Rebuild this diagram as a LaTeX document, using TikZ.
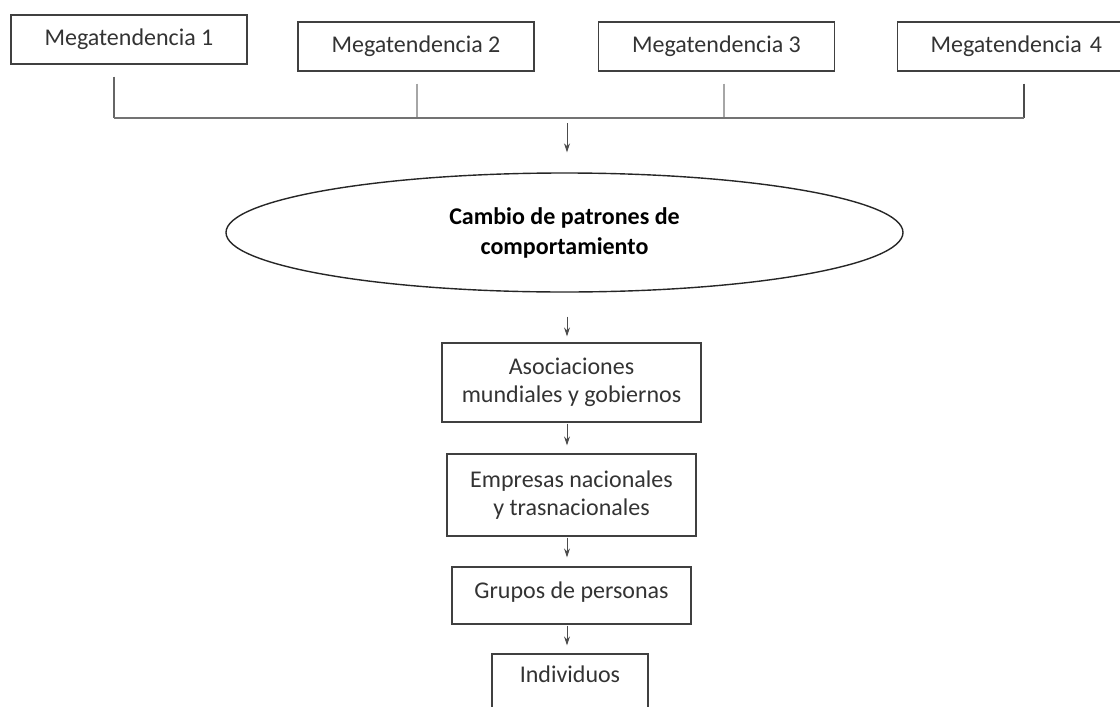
\documentclass[tikz,border=0pt]{standalone}
\usepackage{fontspec}
\setmainfont{Carlito}
\usetikzlibrary{shapes.geometric,arrows.meta}
\tikzset{
  texto/.style={text=black!80, font=\fontsize{12}{14}\selectfont},
  megabox/.style={texto, draw=black!75, line width=0.6pt, minimum width=118pt, minimum height=24.5pt, inner sep=0pt},
  nivel/.style={texto, draw=black!75, line width=0.6pt, align=center, inner sep=0pt},
  enlace/.style={line width=0.6pt},
  flecha/.style={draw=black!70, line width=0.5pt, -{Stealth[length=4.5pt,width=3pt]}},
}
\begin{document}
\begin{tikzpicture}[x=0.5pt,y=-0.5pt]
    \useasboundingbox (0,0) rectangle (1120,707);
    \node[megabox] (m1) at (129,39.5) {Megatendencia 1};
    \node[megabox] (m2) at (416,46.5) {Megatendencia 2};
    \node[megabox] (m3) at (716.5,46.5) {Megatendencia 3};
    % la caja 4 sigue fuera del borde derecho
    \node[megabox, anchor=west, text width=113pt, align=left, inner xsep=16.5pt] (m4) at (897,46.5) {Megatendencia 4};
    \foreach \i/\x/\c in {1/114/60,2/417/35,3/724/35,4/1024/70} {
    \coordinate (j\i) at (\x,118);
    \draw[enlace, draw=black!\c, shorten <=6pt] (m\i.south -| j\i) -- (j\i);
    }
    \draw[enlace, draw=black!55] (j1) -- (j4);
    \node[ellipse, draw=black!85, line width=0.7pt, minimum width=338.5pt, minimum height=59.5pt, inner sep=0pt,
      align=center, font=\bfseries\fontsize{12}{15}\selectfont] (cambio) at (564.5,232.5) {Cambio de patrones de\\comportamiento};
    \node[nivel, minimum width=129.5pt, minimum height=39.5pt] (asoc) at (571.5,382.5) {Asociaciones\\mundiales y gobiernos};
    \node[nivel, minimum width=124.5pt, minimum height=41pt] (empresas) at (571.5,495) {Empresas nacionales\\y trasnacionales};
    \node[nivel, minimum width=119.5pt, minimum height=28.5pt, text depth=5pt] (grupos) at (571.5,595.5) {Grupos de personas};
    \node[nivel, minimum width=78pt, minimum height=34pt, text height=8.5pt, text depth=14pt] (indiv) at (570,688) {Individuos};
    \coordinate (eje) at (567,0);
    \draw[flecha, shorten <=2.5pt, shorten >=10pt] (j1 -| eje) -- (cambio.north -| eje);
    \draw[flecha, shorten <=12pt, shorten >=3pt] (cambio.south -| eje) -- (asoc.north -| eje);
    \draw[flecha, shorten <=0.5pt, shorten >=4pt] (asoc.south -| eje) -- (empresas.north -| eje);
    \draw[flecha, shorten <=0.5pt, shorten >=4.5pt] (empresas.south -| eje) -- (grupos.north -| eje);
    \draw[flecha, shorten <=0.5pt, shorten >=4pt] (grupos.south -| eje) -- (indiv.north -| eje);
\end{tikzpicture}
\end{document}
